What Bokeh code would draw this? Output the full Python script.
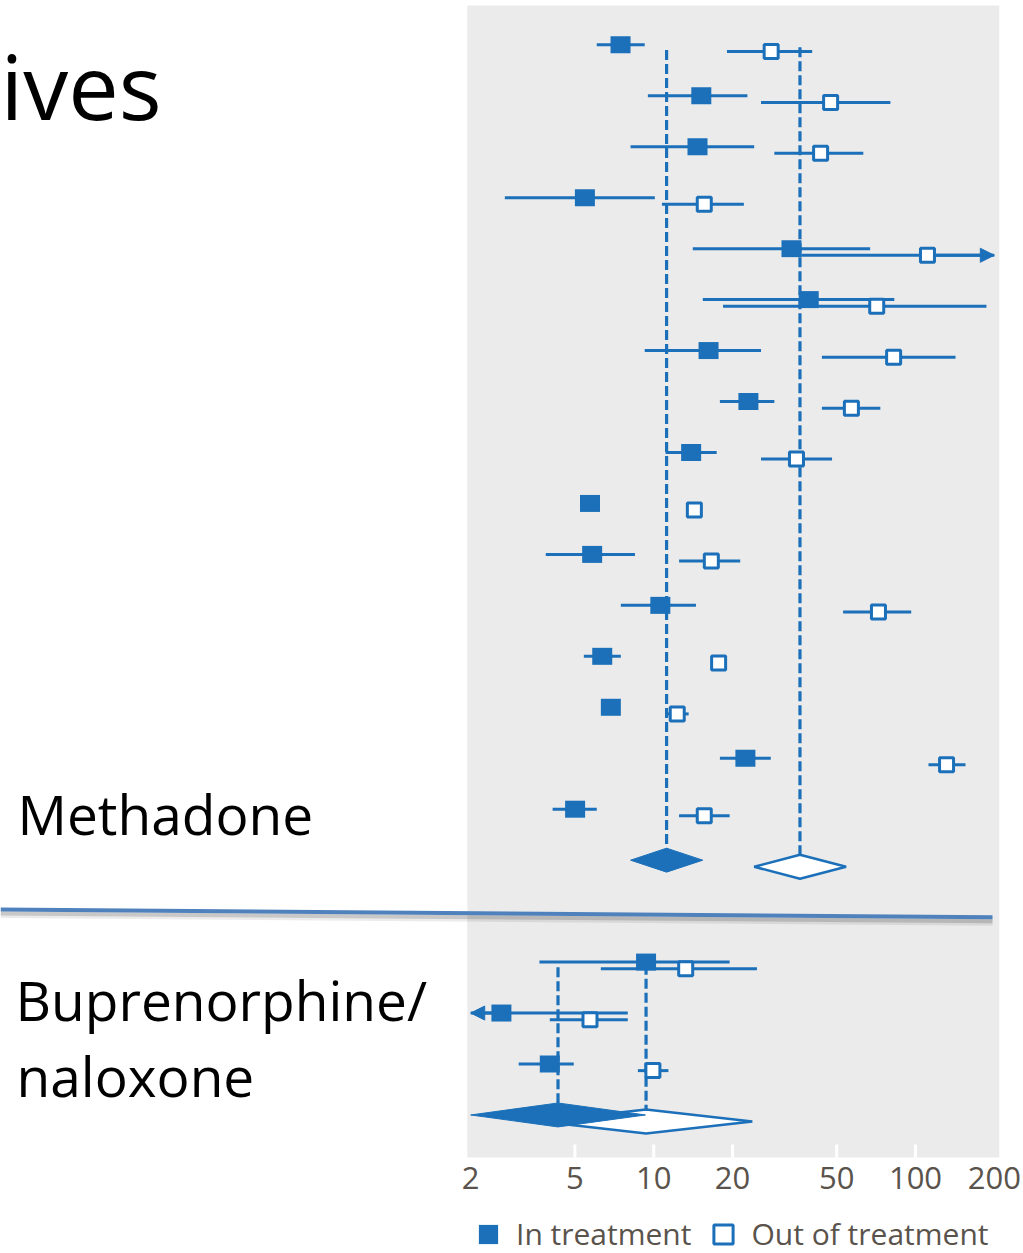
import numpy as np
from bokeh.plotting import figure
from bokeh.models import (Range1d, Label, Arrow, NormalHead, Legend, LegendItem,
                          ColumnDataSource, BoxAnnotation)
from bokeh.core.properties import value
from bokeh.embed import file_html
from bokeh.resources import INLINE

# ---------------- data ----------------
# Methadone studies: rate in treatment (filled) and out of treatment (open)
met_in_est = [7.47, 15.2, 14.7, 5.46, 33.6, 39.1, 16.2, 23.0, 13.9, 5.71, 5.82, 10.6, 6.36, 6.86, 22.4, 5.01]
met_in_lo = [6.06, 9.50, 8.16, 2.70, 14.1, 15.4, 9.24, 17.9, 11.1, 5.45, 3.87, 7.49, 5.41, 6.55, 17.9, 4.11]
met_in_hi = [9.24, 22.8, 24.2, 10.1, 67.1, 83.0, 25.7, 28.9, 17.4, 5.98, 8.48, 14.5, 7.49, 7.19, 28.0, 6.06]
met_out_est = [28.1, 47.4, 43.4, 15.6, 111.1, 71.1, 82.5, 56.9, 35.1, 14.3, 16.6, 72.2, 17.7, 12.3, 131.4, 15.6]
met_out_lo = [19.05, 25.7, 28.9, 10.75, 36.6, 18.4, 43.9, 43.9, 25.7, 13.7, 12.5, 52.9, 16.9, 11.2, 112.1, 12.5]
met_out_hi = [40.3, 80.2, 63.2, 22.1, 260.0, 186.6, 142.2, 73.4, 48.0, 14.9, 21.4, 96.3, 18.5, 13.6, 155.2, 19.5]
met_in_pooled = [11.2, 8.16, 15.4]     # est, lo, hi
met_out_pooled = [36.2, 24.2, 54.3]

# Buprenorphine/naloxone studies
bup_in_est = [9.35, 2.62, 4.01]
bup_in_lo = [3.66, 1.50, 3.05]
bup_in_hi = [19.5, 7.96, 4.95]
bup_out_est = [13.25, 5.71, 9.93]
bup_out_lo = [6.28, 4.01, 8.70]
bup_out_hi = [24.8, 7.96, 11.38]
bup_in_pooled = [4.31, 2.00, 9.30]
bup_out_pooled = [9.35, 3.70, 23.8]

tick_values = [2, 5, 10, 20, 50, 100, 200]
tick_labels = ["2", "5", "10", "20", "50", "100", "200"]
legend_labels = ["In treatment", "Out of treatment"]
group_labels = ["Methadone", "Buprenorphine/", "naloxone"]
title_fragment = "ives"

# ---------------- styling / page geometry ----------------
W, H = 1023, 1253
BLUE = "#1B70B9"
PANEL = "#EBEBEB"
TICK_TXT = "#5A534C"
SEP = "#4F81BD"
FONT = "Open Sans"
DISP_LO, DISP_HI = tick_values[0], tick_values[-1]
OPEN_DY = 0.13        # vertical dodge of the open markers (rows)
DH = 0.235            # diamond half height (rows)
BASELINE_FIX = 0.4    # measured shift of alphabetic baselines (in em)

# page mapping: x log scale (px per decade, px of value 10); y rows (px of row 0, px per row)
PX_DEC, PX_10 = 261.8, 653.2
PY_ROW0, PY_ROW = 44.3, 50.96
def xval(px):
    return 10 ** (1 + (px - PX_10) / PX_DEC)
def yrow(py):
    return (py - PY_ROW0) / PY_ROW

# row positions (computed)
n_met = len(met_in_est)
met_rows = np.arange(n_met, dtype=float)
met_pool_row = float(n_met)
bup_rows = met_pool_row + 2 + np.arange(len(bup_in_est), dtype=float)
bup_pool_row = bup_rows[-1] + 1

p = figure(width=W, height=H, x_axis_type="log",
           x_range=Range1d(xval(0), xval(W)), y_range=Range1d(yrow(H), yrow(0)),
           output_backend="svg", toolbar_location=None,
           x_axis_location=None, y_axis_location=None, min_border=0,
           background_fill_color="white", border_fill_color="white", outline_line_color=None)
p.xgrid.visible = False
p.ygrid.visible = False

# grey plotting panel
panel_left, panel_right = xval(466.8), xval(998.8)
panel_top, panel_bottom = yrow(5), yrow(1157)
p.add_layout(BoxAnnotation(left=panel_left, right=panel_right, top=panel_top, bottom=panel_bottom,
                           fill_color=PANEL, fill_alpha=1, line_color=None, level="underlay"))

# axis ticks (white, inside the panel) and labels
TICK_FS = 31
inner_ticks = [t for t in tick_values if DISP_LO < t < DISP_HI]
p.segment(x0=inner_ticks, y0=[yrow(1144)] * len(inner_ticks), x1=inner_ticks,
          y1=[panel_bottom] * len(inner_ticks), line_color="white", line_width=3)
p.text(x=tick_values, y=[yrow(1190 - BASELINE_FIX * TICK_FS)] * len(tick_values), text=tick_labels,
       text_align="center", text_baseline="alphabetic", text_font=value(FONT),
       text_font_size=f"{TICK_FS}px", text_color=TICK_TXT)

# ---- assemble groups ----
in_est = list(met_in_est) + list(bup_in_est)
in_lo = list(met_in_lo) + list(bup_in_lo)
in_hi = list(met_in_hi) + list(bup_in_hi)
out_est = list(met_out_est) + list(bup_out_est)
out_lo = list(met_out_lo) + list(bup_out_lo)
out_hi = list(met_out_hi) + list(bup_out_hi)
rows = np.concatenate([met_rows, bup_rows])

in_src = ColumnDataSource(dict(
    est=in_est, lo=np.clip(in_lo, DISP_LO, DISP_HI), hi=np.clip(in_hi, DISP_LO, DISP_HI), y=rows))
out_src = ColumnDataSource(dict(
    est=out_est, lo=np.clip(out_lo, DISP_LO, DISP_HI), hi=np.clip(out_hi, DISP_LO, DISP_HI), y=rows + OPEN_DY))

# arrows for truncated intervals
for est, lo, hi, y in list(zip(in_est, in_lo, in_hi, rows)) + list(zip(out_est, out_lo, out_hi, rows + OPEN_DY)):
    for bad, lim in [(hi > DISP_HI, DISP_HI), (lo < DISP_LO, DISP_LO)]:
        if bad:
            p.add_layout(Arrow(x_start=est, y_start=y, x_end=lim, y_end=y, line_color=BLUE, line_width=3,
                               end=NormalHead(size=14, fill_color=BLUE, line_color=BLUE, line_width=1),
                               level="underlay"))

# dashed pooled reference lines
dash_x, dash_y0, dash_y1 = [], [], []
for pooled_in, pooled_out, first_row, pool_row in [
        (met_in_pooled, met_out_pooled, met_rows[0], met_pool_row),
        (bup_in_pooled, bup_out_pooled, bup_rows[0], bup_pool_row)]:
    dash_x += [pooled_in[0], pooled_out[0]]
    dash_y0 += [first_row + 0.1, first_row + 0.05]
    dash_y1 += [pool_row - DH, pool_row + OPEN_DY - DH]
p.segment(x0=dash_x, y0=dash_y0, x1=dash_x, y1=dash_y1, line_color=BLUE, line_width=3.2, line_dash="10 4")

# confidence intervals
p.segment(x0="lo", y0="y", x1="hi", y1="y", source=in_src, line_color=BLUE, line_width=3)
p.segment(x0="lo", y0="y", x1="hi", y1="y", source=out_src, line_color=BLUE, line_width=3)

# pooled diamonds
def diamond(pooled, row):
    est, lo, hi = pooled
    return [lo, est, hi, est], [row, row - DH, row, row + DH]

ox, oy = zip(*[diamond(met_out_pooled, met_pool_row + OPEN_DY), diamond(bup_out_pooled, bup_pool_row + OPEN_DY)])
fx, fy = zip(*[diamond(met_in_pooled, met_pool_row), diamond(bup_in_pooled, bup_pool_row)])
p.patches(xs=list(ox), ys=list(oy), fill_color="white", line_color=BLUE, line_width=2.5)
p.patches(xs=list(fx), ys=list(fy), fill_color=BLUE, line_color=BLUE, line_width=1)

# study markers
r_out = p.rect(x="est", y="y", width=14, height=14, width_units="screen", height_units="screen",
               source=out_src, fill_color="white", line_color=BLUE, line_width=3)
r_in = p.rect(x="est", y="y", width=20, height=17, width_units="screen", height_units="screen",
              source=in_src, fill_color=BLUE, line_color=None)

# legend under the axis labels (screen units from the bottom-left of the page)
legend = Legend(items=[LegendItem(label=legend_labels[0], renderers=[r_in]),
                       LegendItem(label=legend_labels[1], renderers=[r_out])],
                orientation="horizontal", location=(476, -1),
                padding=0, margin=0, spacing=20, label_standoff=16,
                glyph_width=24, glyph_height=24,
                border_line_color=None, background_fill_alpha=0,
                label_text_font=FONT, label_text_font_size="30px", label_text_color=TICK_TXT)
p.add_layout(legend, "center")

# ---- slide texts (screen units, from the bottom-left of the page) ----
def slide_label(text, px, baseline, size):
    p.add_layout(Label(x=px, y=H - baseline + BASELINE_FIX * size, x_units="screen", y_units="screen",
                       text=text, text_font=FONT, text_font_size=f"{size}px", text_color="black",
                       text_align="left", text_baseline="alphabetic"))

slide_label(title_fragment, 0, 120, 90)
slide_label(group_labels[0], 17, 835, 55)
slide_label(group_labels[1], 15, 1021, 55)
slide_label(group_labels[2], 16, 1097, 55)

# separator line with soft shadow
for dy, w, col, a in [(5, 7, "black", 0.08), (4, 4, "black", 0.15), (0, 4, SEP, 1.0)]:
    p.add_layout(Arrow(x_start=0, y_start=H - 909 - dy, x_end=992, y_end=H - 916.7 - dy,
                       start_units="screen", end_units="screen", end=None,
                       line_color=col, line_alpha=a, line_width=w))

open("out.html", "w").write(file_html(p, INLINE))
